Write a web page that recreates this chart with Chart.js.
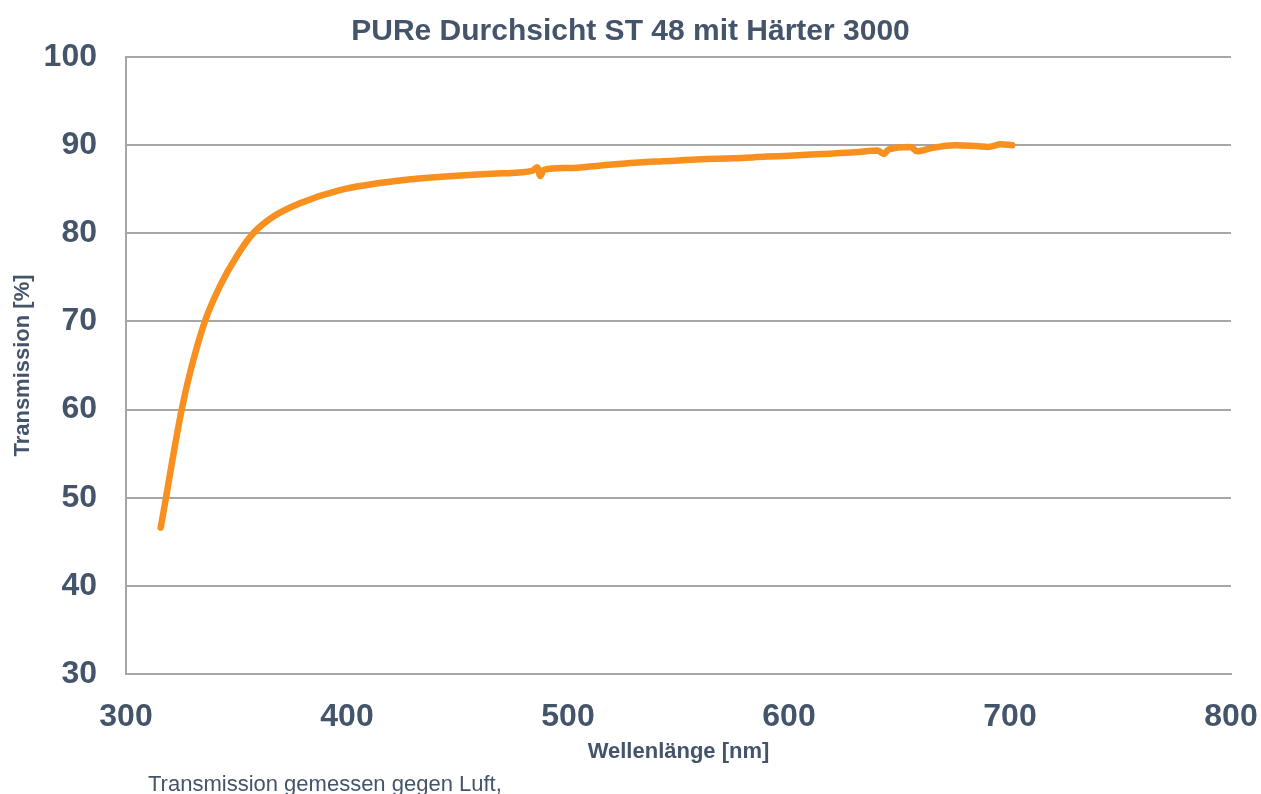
<!DOCTYPE html>
<html>
<head>
<meta charset="utf-8">
<script src="https://cdn.jsdelivr.net/npm/chart.js@4/dist/chart.umd.min.js"></script>
<style>
  html, body { margin: 0; padding: 0; background: #fff; overflow: hidden; }
  #wrap { position: relative; width: 1261px; height: 794px; }
  #note {
    position: absolute; left: 148px; top: 771px; line-height: 25px;
    font: 22px "Liberation Sans", Arial, sans-serif; color: #44546A;
    white-space: nowrap;
  }
</style>
</head>
<body>
<div id="wrap">
  <canvas id="chart" width="1261" height="794"></canvas>
  <div id="note">Transmission gemessen gegen Luft,</div>
</div>
<script>
// Wellenlänge [nm]
const wavelength = [315.7, 318.1, 321.5, 325.2, 329, 335.7, 342.5, 350.1, 357.6, 366.7, 378.7, 396.8, 424,
    448, 470, 484, 486, 487.5, 489, 500, 515, 530, 545, 560, 575, 590, 600, 615, 630, 640,
    643, 645, 655, 658, 665, 675, 685, 690, 696, 701];
// Transmission [%]
const transmission = [46.6, 50, 55, 60, 64.2, 70, 74, 77.4, 80, 81.9, 83.4, 84.9, 86.0,
    86.5, 86.8, 87.1, 87.5, 86.5, 87.2, 87.4, 87.7, 88.0, 88.2, 88.4, 88.5, 88.7, 88.8, 89.0, 89.2, 89.4,
    89.0, 89.5, 89.8, 89.3, 89.7, 90.0, 89.9, 89.8, 90.1, 90.0];

const textColor = "#44546A";
const gridColor = "#A6A6A6";
const font = "'Liberation Sans', Arial, sans-serif";

const ctx = document.getElementById("chart").getContext("2d");
new Chart(ctx, {
    type: "line",
    data: {
        datasets: [
            {
                label: "PURe Durchsicht ST 48 mit Härter 3000",
                data: wavelength.map((x, i) => ({ x: x, y: transmission[i] })),
                borderColor: "#F7901E",
                borderWidth: 6.5,
                borderCapStyle: "round",
                pointRadius: 0,
                fill: false,
                cubicInterpolationMode: "monotone",
            },
        ],
    },
    options: {
        responsive: false,
        animation: false,
        layout: { padding: { left: 0, right: 0, top: 0, bottom: 20 } },
        plugins: {
            legend: { display: false },
            tooltip: { enabled: false },
            title: {
                display: true,
                text: "PURe Durchsicht ST 48 mit Härter 3000",
                color: textColor,
                font: { family: font, size: 30, weight: "bold" },
                padding: { top: 14, bottom: 7 },
            },
        },
        scales: {
            x: {
                type: "linear",
                position: "bottom",
                min: 300,
                max: 800,
                ticks: {
                    stepSize: 100,
                    color: textColor,
                    font: { family: font, size: 32, weight: "bold" },
                    padding: 24,
                    maxRotation: 0,
                },
                grid: { display: false, drawTicks: false },
                border: { display: true, color: gridColor, width: 2 },
                title: {
                    display: true,
                    text: "Wellenlänge [nm]",
                    color: textColor,
                    font: { family: font, size: 22, weight: "bold" },
                    padding: { top: 0, bottom: 9 },
                },
                afterFit: (scale) => {
                    scale.height = 100;
                    scale.paddingRight = 30;
                },
            },
            y: {
                min: 30,
                max: 100,
                ticks: {
                    stepSize: 10,
                    color: textColor,
                    font: { family: font, size: 32, weight: "bold" },
                    padding: 29,
                },
                grid: { color: gridColor, lineWidth: 2, drawTicks: false },
                border: { display: true, color: gridColor, width: 2 },
                title: {
                    display: true,
                    text: "Transmission [%]",
                    color: textColor,
                    font: { family: font, size: 22, weight: "bold" },
                    padding: { top: 10, bottom: 0 },
                },
                afterFit: (scale) => { scale.width = 126; },
            },
        },
    },
});
</script>
</body>
</html>
